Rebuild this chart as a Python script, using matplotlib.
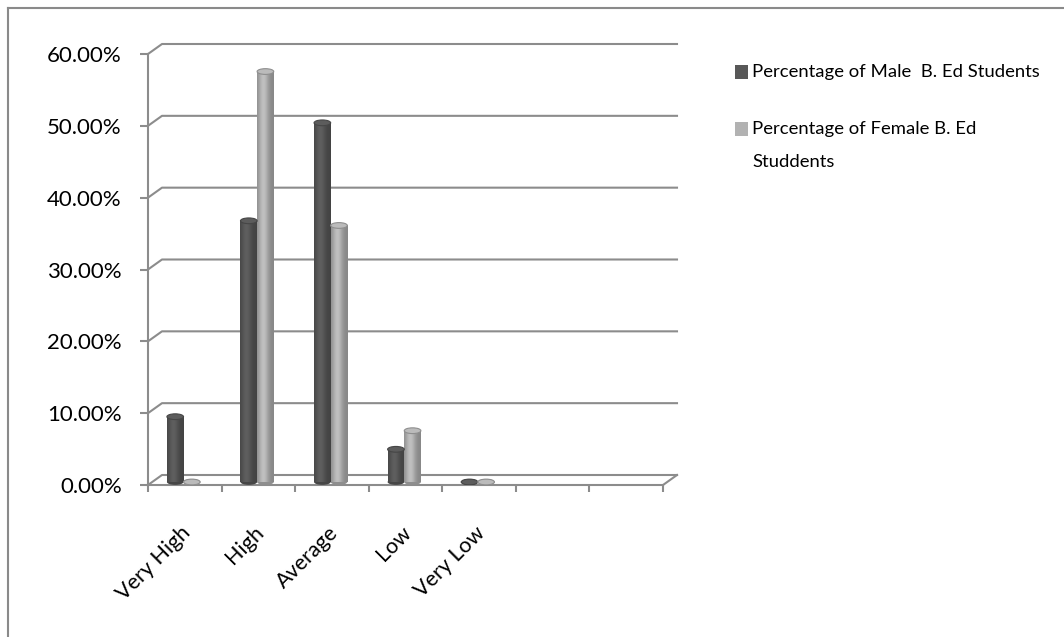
import numpy as np
import matplotlib.pyplot as plt
from matplotlib.patches import Ellipse, Rectangle
from matplotlib.lines import Line2D
from matplotlib.transforms import offset_copy
from matplotlib.colors import to_rgb

categories = ["Very High", "High", "Average", "Low", "Very Low"]
male_pct = [9.09, 36.36, 50.00, 4.55, 0.00]
female_pct = [0.00, 57.14, 35.71, 7.14, 0.00]
series_names = ["Percentage of Male  B. Ed Students",
                "Percentage of Female B. Ed\nStuddents"]
y_ticks = [0, 10, 20, 30, 40, 50, 60]
n_slots = 7

plt.rcParams['font.family'] = ['Lato', 'DejaVu Sans']

GRID = '#8c8c8c'
MALE = '#585858'
FEMALE = '#b2b2b2'

W, H = 1064, 637
fig = plt.figure(figsize=(W / 100, H / 100), dpi=100)
ax = fig.add_axes([148 / W, 1 - 485 / H, 515 / W, 431 / H])

# depth of the fake 3d box, in data units
dx = 14 / (515 / n_slots)
dy = 10 / (431 / 60)

# back wall gridlines with the little side-wall diagonal
for v in y_ticks:
    ax.plot([0, dx, n_slots + dx], [v, v + dy, v + dy], color=GRID,
            lw=1.5, clip_on=False, zorder=1)
ax.plot([n_slots, n_slots + dx], [0, dy], color=GRID, lw=1.5,
        clip_on=False, zorder=1)

for side in ['top', 'right']:
    ax.spines[side].set_visible(False)
for side in ['left', 'bottom']:
    ax.spines[side].set_color(GRID)
    ax.spines[side].set_linewidth(1.5)
    ax.spines[side].set_zorder(1)

ax.set_yticks(y_ticks, [f"{v:.2f}%" for v in y_ticks])
ax.set_xticks(range(n_slots + 1), [])
ax.tick_params(axis='y', direction='out', length=5.8, width=1.5,
               color=GRID, pad=13, labelsize=16)
ax.tick_params(axis='x', direction='out', length=5, width=1.5, color=GRID)

# bars sit a little behind the front edge
bar_trans = offset_copy(ax.transData, fig=fig, x=0, y=3, units='dots')
bw = 0.226
cap = 0.8


def cylinder(x, h, color):
    base = np.array(to_rgb(color))
    t = np.linspace(0, 1, 64)
    shade = 0.76 + 0.32 * np.exp(-((t - 0.38) / 0.3) ** 2)
    rgb = np.clip(base[None, :] * shade[:, None], 0, 1)
    edge = np.clip(base * 0.8, 0, 1)
    ax.add_patch(Ellipse((x, 0), bw, cap, facecolor=edge, edgecolor='none',
                         transform=bar_trans, zorder=3))
    if h > 0:
        bar = ax.bar(x, h, width=bw, color=color, transform=bar_trans,
                     zorder=3)[0]
        im = ax.imshow(rgb[None, :, :], extent=(x - bw / 2, x + bw / 2, 0, h),
                       aspect='auto', transform=bar_trans, zorder=3.05,
                       interpolation='bilinear')
        im.set_clip_path(bar)
    top = np.clip(base * 1.05, 0, 1)
    ax.add_patch(Ellipse((x, h), bw, cap, facecolor=top, edgecolor=edge,
                         lw=0.8, transform=bar_trans, zorder=3.1))


for i in range(len(categories)):
    cylinder(i + 0.5 - 0.13, male_pct[i], MALE)
    cylinder(i + 0.5 + 0.096, female_pct[i], FEMALE)

for i, cat in enumerate(categories):
    ax.annotate(cat, xy=(i + 0.5, 0), xytext=(2, -32),
                textcoords='offset points', rotation=45,
                rotation_mode='anchor', ha='right', va='center',
                fontsize=15.5, annotation_clip=False)

ax.set_xlim(0, n_slots)
ax.set_ylim(0, 60)

# legend on the right
for name, col, yc in zip(series_names, [MALE, FEMALE], [72, 129]):
    fig.add_artist(Rectangle((735 / W, 1 - (yc + 6.5) / H), 13 / W, 13 / H,
                             transform=fig.transFigure, facecolor=col,
                             edgecolor='none'))
    fig.text(752 / W, 1 - (yc - 8) / H, name, fontsize=13.3, va='top',
             ha='left', linespacing=2.3)

# chart area border
fig.add_artist(Line2D([8 / W, 8 / W], [0, 1 - 8 / H], transform=fig.transFigure,
                      color='#8a8a8a', lw=1.5))
fig.add_artist(Line2D([8 / W, 1], [1 - 8 / H, 1 - 8 / H],
                      transform=fig.transFigure, color='#8a8a8a', lw=1.5))

fig.savefig('out.png', dpi=100)
